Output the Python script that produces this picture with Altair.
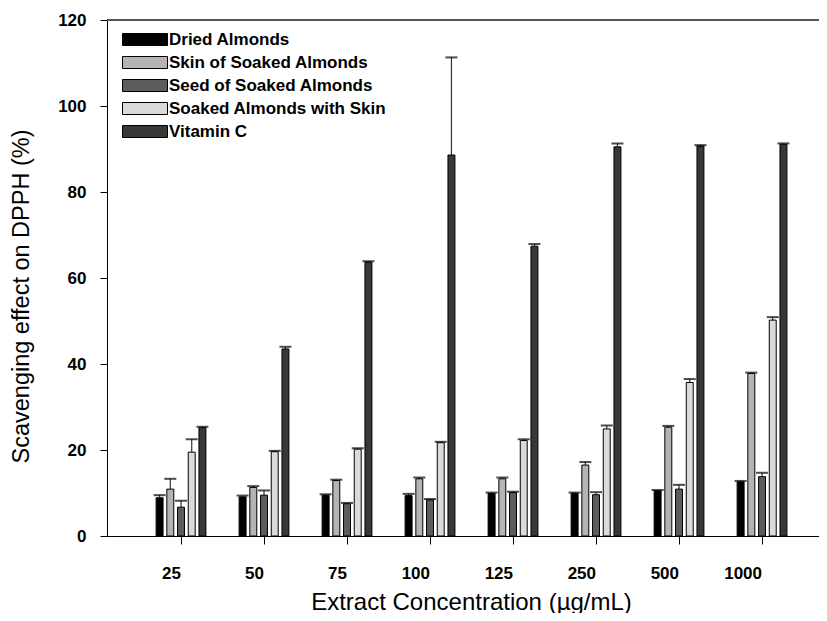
import altair as alt
import pandas as pd

concentrations = ["25", "50", "75", "100", "125", "250", "500", "1000"]
series = ["Dried Almonds", "Skin of Soaked Almonds", "Seed of Soaked Almonds",
          "Soaked Almonds with Skin", "Vitamin C"]
colors = ["#000000", "#b4b4b4", "#5c5c5c", "#dadada", "#383838"]

dried = [8.9, 9.1, 9.5, 9.4, 9.9, 9.9, 10.5, 12.6]
dried_err = [0.6, 0.3, 0.2, 0.4, 0.2, 0.2, 0.2, 0.2]
skin = [10.9, 11.3, 12.9, 13.3, 13.3, 16.5, 25.3, 37.8]
skin_err = [2.4, 0.3, 0.2, 0.3, 0.3, 0.7, 0.3, 0.2]
seed = [6.7, 9.5, 7.5, 8.4, 10.1, 9.6, 10.9, 13.8]
seed_err = [1.5, 1.1, 0.2, 0.2, 0.2, 0.6, 1.0, 0.9]
soaked = [19.5, 19.6, 20.2, 21.7, 22.2, 24.9, 35.7, 50.2]
soaked_err = [3.0, 0.2, 0.2, 0.2, 0.3, 0.8, 0.8, 0.7]
vitc = [25.2, 43.5, 63.7, 88.6, 67.4, 90.5, 90.7, 91.1]
vitc_err = [0.2, 0.5, 0.2, 22.7, 0.5, 0.8, 0.2, 0.2]

rows = []
for name, vals, errs in zip(series, [dried, skin, seed, soaked, vitc],
                            [dried_err, skin_err, seed_err, soaked_err, vitc_err]):
    for c, v, e in zip(concentrations, vals, errs):
        rows.append({"conc": c, "series": name, "value": v, "upper": v + e})
df = pd.DataFrame(rows)

FONT = "Liberation Sans"

x_enc = alt.X("conc:N", sort=concentrations,
              scale=alt.Scale(paddingInner=0.4, paddingOuter=0.489, align=0.605),
              axis=alt.Axis(title="Extract Concentration (µg/mL)", labelAngle=0,
                            labelFont=FONT, labelFontWeight="bold",
                            labelFontSize=17, labelColor="black", labelPadding=29,
                            tickSize=8, tickColor="black", domainColor="black",
                            titleFont=FONT, titleFontWeight="normal",
                            titleFontSize=24, titleColor="black",
                            titleX=364, titleY=73, titleBaseline="alphabetic"))
xoff = alt.XOffset("series:N", sort=series,
                   scale=alt.Scale(paddingInner=0.35, paddingOuter=0))
y_scale = alt.Scale(domain=[0, 120], nice=False)

bars = alt.Chart(df).mark_bar(stroke="black", strokeWidth=1).encode(
    x=x_enc,
    xOffset=xoff,
    y=alt.Y("value:Q", scale=y_scale,
            axis=alt.Axis(title="Scavenging effect on DPPH (%)", values=[0, 20, 40, 60, 80, 100, 120],
                          grid=False, labelFont=FONT, labelFontWeight="bold",
                          labelFontSize=17, labelColor="black", labelPadding=14,
                          tickSize=7, tickColor="black", domainColor="black",
                          titleFont=FONT, titleFontWeight="normal",
                          titleFontSize=23.5, titleColor="black",
                          titleX=-86, titleY=276, titleBaseline="middle")),
    color=alt.Color("series:N", sort=series,
                    scale=alt.Scale(domain=series, range=colors),
                    legend=alt.Legend(title=None, orient="none", legendX=29.5, legendY=11,
                                      symbolType="M-3.75,-1H3.75V1H-3.75Z", symbolSize=144,
                                      symbolStrokeColor="black", symbolStrokeWidth=1,
                                      labelFont=FONT, labelFontWeight="bold",
                                      labelFontSize=17, labelColor="black", labelLimit=0,
                                      labelOffset=15.5, rowPadding=5, padding=0)),
)

err_line = alt.Chart(df).mark_rule(color="#333333", strokeWidth=1.2).encode(
    x=alt.X("conc:N", sort=concentrations), xOffset=xoff,
    y=alt.Y("value:Q", scale=y_scale), y2="upper:Q")

err_cap = alt.Chart(df).mark_tick(color="black", thickness=2, size=12).encode(
    x=alt.X("conc:N", sort=concentrations), xOffset=xoff,
    y=alt.Y("upper:Q", scale=y_scale))

top_line = alt.Chart(df).mark_rule(color="#555555", strokeWidth=1.5).encode(y=alt.value(0))

chart = alt.layer(err_line, bars, err_cap, top_line).properties(
    width=712, height=516,
    autosize=alt.AutoSizeParams(type="none"),
    padding={"left": 99, "top": 12, "right": 0, "bottom": 77},
).configure_view(stroke=None).configure_axis(grid=False)

chart.save("out.html", embed_options={"renderer": "svg", "actions": False})
